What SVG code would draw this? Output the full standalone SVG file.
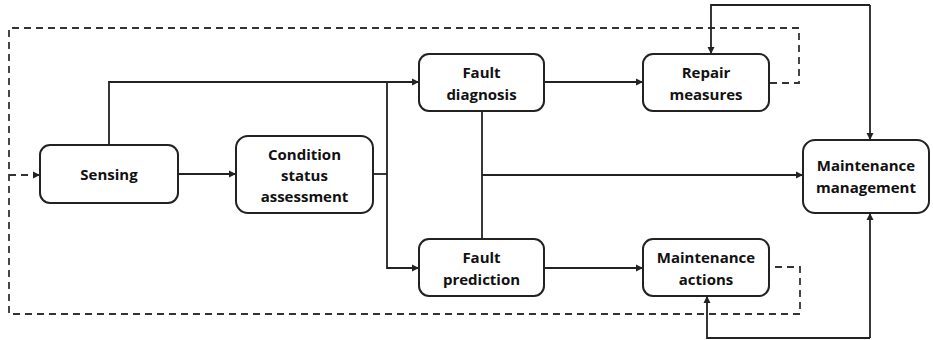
<svg xmlns="http://www.w3.org/2000/svg" width="933" height="340" viewBox="0 0 933 340">
<defs>
<marker id="ah" markerWidth="8" markerHeight="8" refX="7" refY="4" orient="auto" markerUnits="userSpaceOnUse">
<path d="M0,0.5 L7,4 L0,7.5 Z" fill="#222"/>
</marker>
</defs>
<style>
.box{fill:#fff;stroke:#222;stroke-width:2}
.t{font-family:"Open Sans","Liberation Sans",sans-serif;font-weight:bold;font-size:15px;fill:#111;text-anchor:middle}
.c{fill:none;stroke:#222;stroke-width:1.8}
.d{fill:none;stroke:#333;stroke-width:1.8;stroke-dasharray:7,5}
</style>
<rect width="933" height="340" fill="#fff"/>
<g id="connectors">
<path class="d" d="M770,83 H799 V28 H9 V314 H800 V267 H770"/>
<path class="d" d="M9,175 H40" marker-end="url(#ah)"/>
<path class="c" d="M109,145 V82 H419" marker-end="url(#ah)"/>
<path class="c" d="M178,174 H236" marker-end="url(#ah)"/>
<path class="c" d="M373,174 H387"/>
<path class="c" d="M387,82 V268 H419" marker-end="url(#ah)"/>
<path class="c" d="M544,82 H643" marker-end="url(#ah)"/>
<path class="c" d="M544,268 H643" marker-end="url(#ah)"/>
<path class="c" d="M482,111 V239"/>
<path class="c" d="M482,175 H803" marker-end="url(#ah)"/>
<path class="c" d="M870,5 H711 V54" marker-end="url(#ah)"/>
<path class="c" d="M870,5 V140" marker-end="url(#ah)"/>
<path class="c" d="M870,338 H707 V296" marker-end="url(#ah)"/>
<path class="c" d="M870,338 V213" marker-end="url(#ah)"/>
</g>
<g id="sensing">
<rect class="box" x="40" y="145" width="138" height="58" rx="10"/>
<text class="t" x="109" y="180">Sensing</text>
</g>
<g id="condition">
<rect class="box" x="236" y="136" width="137" height="77" rx="12"/>
<text class="t" x="304.5" y="160">Condition</text>
<text class="t" x="304.5" y="181">status</text>
<text class="t" x="304.5" y="202">assessment</text>
</g>
<g id="fault-diagnosis">
<rect class="box" x="419" y="54" width="125" height="57" rx="10"/>
<text class="t" x="481.5" y="78">Fault</text>
<text class="t" x="481.5" y="100">diagnosis</text>
</g>
<g id="repair">
<rect class="box" x="643" y="54" width="126" height="57" rx="10"/>
<text class="t" x="706" y="78">Repair</text>
<text class="t" x="706" y="100">measures</text>
</g>
<g id="maintenance-management">
<rect class="box" x="803" y="140" width="126" height="73" rx="12"/>
<text class="t" x="866" y="171">Maintenance</text>
<text class="t" x="866" y="193">management</text>
</g>
<g id="fault-prediction">
<rect class="box" x="419" y="239" width="125" height="57" rx="10"/>
<text class="t" x="481.5" y="263">Fault</text>
<text class="t" x="481.5" y="285">prediction</text>
</g>
<g id="maintenance-actions">
<rect class="box" x="643" y="239" width="126" height="57" rx="10"/>
<text class="t" x="706" y="263">Maintenance</text>
<text class="t" x="706" y="285">actions</text>
</g>
</svg>
